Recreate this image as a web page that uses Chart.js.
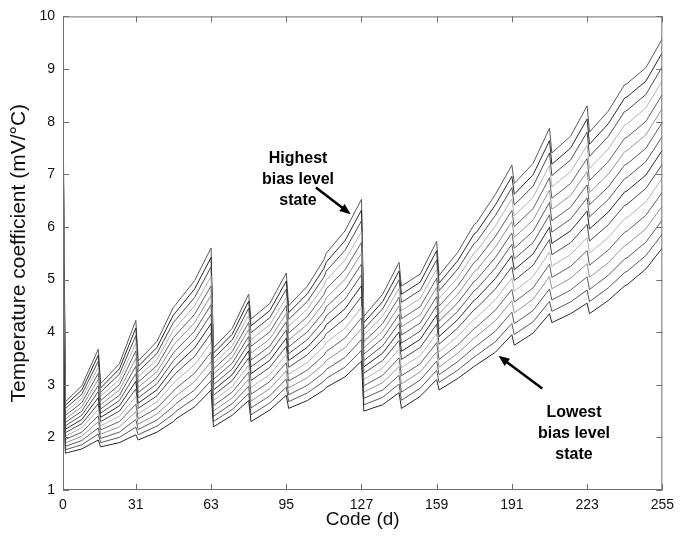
<!DOCTYPE html>
<html>
<head>
<meta charset="utf-8">
<script src="https://cdn.jsdelivr.net/npm/chart.js@4.4.1/dist/chart.umd.min.js"></script>
<style>
  html, body { margin: 0; padding: 0; background: #fff; }
  #tc { display: block; }
</style>
</head>
<body>
<canvas id="tc" width="681" height="536"></canvas>
<script>
// DAC code at which each value was read
const codes = [0,
  1, 8, 15,  16, 24, 31,  32, 40, 47,  48, 56, 63,
  64, 72, 79,  80, 88, 95,  96, 104, 111,  112, 120, 127,
  128, 136, 143,  144, 152, 159,  160, 168, 175,  176, 184, 191,
  192, 200, 207,  208, 216, 223,  224, 232, 239,  240, 248, 255];

const codeTicks = [0, 31, 63, 95, 127, 159, 191, 223, 255];

// temperature coefficient (mV/°C), lowest bias level (lvl1) to highest (lvl16)
const lvl1 = [4.60,
  1.70, 1.78, 1.95,  1.82, 1.90, 2.05,  1.95, 2.10, 2.30,  2.35, 2.58, 2.90,
  2.20, 2.42, 2.70,  2.30, 2.52, 2.80,  2.55, 2.70, 2.90,  2.95, 3.15, 3.45,
  2.50, 2.62, 2.85,  2.55, 2.78, 3.10,  2.90, 3.12, 3.35,  3.38, 3.62, 3.95,
  3.75, 3.98, 4.35,  4.18, 4.35, 4.55,  4.35, 4.60, 4.88,  4.90, 5.20, 5.60];
const lvl2 = [4.86,
  1.765, 1.86, 2.065,  1.90, 2.00, 2.195,  2.05, 2.215, 2.445,  2.495, 2.74, 3.08,
  2.30, 2.53, 2.835,  2.43, 2.655, 2.955,  2.68, 2.845, 3.065,  3.12, 3.335, 3.655,
  2.62, 2.76, 3.015,  2.705, 2.935, 3.275,  3.045, 3.28, 3.53,  3.56, 3.82, 4.165,
  3.955, 4.195, 4.585,  4.395, 4.575, 4.80,  4.58, 4.84, 5.135,  5.155, 5.455, 5.865];
const lvl3 = [5.12,
  1.83, 1.94, 2.18,  1.98, 2.10, 2.34,  2.15, 2.33, 2.59,  2.64, 2.90, 3.26,
  2.40, 2.64, 2.97,  2.56, 2.79, 3.11,  2.81, 2.99, 3.23,  3.29, 3.52, 3.86,
  2.74, 2.90, 3.18,  2.86, 3.09, 3.45,  3.19, 3.44, 3.71,  3.74, 4.02, 4.38,
  4.16, 4.41, 4.82,  4.61, 4.80, 5.05,  4.81, 5.08, 5.39,  5.41, 5.71, 6.13];
const lvl4 = [5.38,
  1.895, 2.02, 2.295,  2.06, 2.20, 2.485,  2.25, 2.445, 2.735,  2.785, 3.06, 3.44,
  2.50, 2.75, 3.105,  2.69, 2.925, 3.265,  2.94, 3.135, 3.395,  3.46, 3.705, 4.065,
  2.86, 3.04, 3.345,  3.015, 3.245, 3.625,  3.335, 3.60, 3.89,  3.92, 4.22, 4.595,
  4.365, 4.625, 5.055,  4.825, 5.025, 5.30,  5.04, 5.32, 5.645,  5.665, 5.965, 6.395];
const lvl5 = [5.64,
  1.96, 2.10, 2.41,  2.14, 2.30, 2.63,  2.35, 2.56, 2.88,  2.93, 3.22, 3.62,
  2.60, 2.86, 3.24,  2.82, 3.06, 3.42,  3.07, 3.28, 3.56,  3.63, 3.89, 4.27,
  2.98, 3.18, 3.51,  3.17, 3.40, 3.80,  3.48, 3.76, 4.07,  4.10, 4.42, 4.81,
  4.57, 4.84, 5.29,  5.04, 5.25, 5.55,  5.27, 5.56, 5.90,  5.92, 6.22, 6.66];
const lvl6 = [5.90,
  2.025, 2.18, 2.525,  2.22, 2.40, 2.775,  2.45, 2.675, 3.025,  3.075, 3.38, 3.80,
  2.70, 2.97, 3.375,  2.95, 3.195, 3.575,  3.20, 3.425, 3.725,  3.80, 4.075, 4.475,
  3.10, 3.32, 3.675,  3.325, 3.555, 3.975,  3.625, 3.92, 4.25,  4.28, 4.62, 5.025,
  4.775, 5.055, 5.525,  5.255, 5.475, 5.80,  5.50, 5.80, 6.155,  6.175, 6.475, 6.925];
const lvl7 = [6.16,
  2.09, 2.26, 2.64,  2.30, 2.50, 2.92,  2.55, 2.79, 3.17,  3.22, 3.54, 3.98,
  2.80, 3.08, 3.51,  3.08, 3.33, 3.73,  3.33, 3.57, 3.89,  3.97, 4.26, 4.68,
  3.22, 3.46, 3.84,  3.48, 3.71, 4.15,  3.77, 4.08, 4.43,  4.46, 4.82, 5.24,
  4.98, 5.27, 5.76,  5.47, 5.70, 6.05,  5.73, 6.04, 6.41,  6.43, 6.73, 7.19];
const lvl8 = [6.42,
  2.155, 2.34, 2.755,  2.38, 2.60, 3.065,  2.65, 2.905, 3.315,  3.365, 3.70, 4.16,
  2.90, 3.19, 3.645,  3.21, 3.465, 3.885,  3.46, 3.715, 4.055,  4.14, 4.445, 4.885,
  3.34, 3.60, 4.005,  3.635, 3.865, 4.325,  3.915, 4.24, 4.61,  4.64, 5.02, 5.455,
  5.185, 5.485, 5.995,  5.685, 5.925, 6.30,  5.96, 6.28, 6.665,  6.685, 6.985, 7.455];
const lvl9 = [6.68,
  2.22, 2.42, 2.87,  2.46, 2.70, 3.21,  2.75, 3.02, 3.46,  3.51, 3.86, 4.34,
  3.00, 3.30, 3.78,  3.34, 3.60, 4.04,  3.59, 3.86, 4.22,  4.31, 4.63, 5.09,
  3.46, 3.74, 4.17,  3.79, 4.02, 4.50,  4.06, 4.40, 4.79,  4.82, 5.22, 5.67,
  5.39, 5.70, 6.23,  5.90, 6.15, 6.55,  6.19, 6.52, 6.92,  6.94, 7.24, 7.72];
const lvl10 = [6.94,
  2.285, 2.50, 2.985,  2.54, 2.80, 3.355,  2.85, 3.135, 3.605,  3.655, 4.02, 4.52,
  3.10, 3.41, 3.915,  3.47, 3.735, 4.195,  3.72, 4.005, 4.385,  4.48, 4.815, 5.295,
  3.58, 3.88, 4.335,  3.945, 4.175, 4.675,  4.205, 4.56, 4.97,  5.00, 5.42, 5.885,
  5.595, 5.915, 6.465,  6.115, 6.375, 6.80,  6.42, 6.76, 7.175,  7.195, 7.495, 7.985];
const lvl11 = [7.20,
  2.35, 2.58, 3.10,  2.62, 2.90, 3.50,  2.95, 3.25, 3.75,  3.80, 4.18, 4.70,
  3.20, 3.52, 4.05,  3.60, 3.87, 4.35,  3.85, 4.15, 4.55,  4.65, 5.00, 5.50,
  3.70, 4.02, 4.50,  4.10, 4.33, 4.85,  4.35, 4.72, 5.15,  5.18, 5.62, 6.10,
  5.80, 6.13, 6.70,  6.33, 6.60, 7.05,  6.65, 7.00, 7.43,  7.45, 7.75, 8.25];
const lvl12 = [7.46,
  2.415, 2.66, 3.215,  2.70, 3.00, 3.645,  3.05, 3.365, 3.895,  3.945, 4.34, 4.88,
  3.30, 3.63, 4.185,  3.73, 4.005, 4.505,  3.98, 4.295, 4.715,  4.82, 5.185, 5.705,
  3.82, 4.16, 4.665,  4.255, 4.485, 5.025,  4.495, 4.88, 5.33,  5.36, 5.82, 6.315,
  6.005, 6.345, 6.935,  6.545, 6.825, 7.30,  6.88, 7.24, 7.685,  7.705, 8.005, 8.515];
const lvl13 = [7.72,
  2.48, 2.74, 3.33,  2.78, 3.10, 3.79,  3.15, 3.48, 4.04,  4.09, 4.50, 5.06,
  3.40, 3.74, 4.32,  3.86, 4.14, 4.66,  4.11, 4.44, 4.88,  4.99, 5.37, 5.91,
  3.94, 4.30, 4.83,  4.41, 4.64, 5.20,  4.64, 5.04, 5.51,  5.54, 6.02, 6.53,
  6.21, 6.56, 7.17,  6.76, 7.05, 7.55,  7.11, 7.48, 7.94,  7.96, 8.26, 8.78];
const lvl14 = [7.98,
  2.545, 2.82, 3.445,  2.86, 3.20, 3.935,  3.25, 3.595, 4.185,  4.235, 4.66, 5.24,
  3.50, 3.85, 4.455,  3.99, 4.275, 4.815,  4.24, 4.585, 5.045,  5.16, 5.555, 6.115,
  4.06, 4.44, 4.995,  4.565, 4.795, 5.375,  4.785, 5.20, 5.69,  5.72, 6.22, 6.745,
  6.415, 6.775, 7.405,  6.975, 7.275, 7.80,  7.34, 7.72, 8.195,  8.215, 8.515, 9.045];
const lvl15 = [8.24,
  2.61, 2.90, 3.56,  2.94, 3.30, 4.08,  3.35, 3.71, 4.33,  4.38, 4.82, 5.42,
  3.60, 3.96, 4.59,  4.12, 4.41, 4.97,  4.37, 4.73, 5.21,  5.33, 5.74, 6.32,
  4.18, 4.58, 5.16,  4.72, 4.95, 5.55,  4.93, 5.36, 5.87,  5.90, 6.42, 6.96,
  6.62, 6.99, 7.64,  7.19, 7.50, 8.05,  7.57, 7.96, 8.45,  8.47, 8.77, 9.31];
const lvl16 = [8.50,
  2.675, 2.98, 3.675,  3.02, 3.40, 4.225,  3.45, 3.825, 4.475,  4.525, 4.98, 5.60,
  3.70, 4.07, 4.725,  4.25, 4.545, 5.125,  4.50, 4.875, 5.375,  5.50, 5.925, 6.525,
  4.30, 4.72, 5.325,  4.875, 5.105, 5.725,  5.075, 5.52, 6.05,  6.08, 6.62, 7.175,
  6.825, 7.205, 7.875,  7.405, 7.725, 8.30,  7.80, 8.20, 8.705,  8.725, 9.025, 9.575];

const levels = [lvl1, lvl2, lvl3, lvl4, lvl5, lvl6, lvl7, lvl8,
                lvl9, lvl10, lvl11, lvl12, lvl13, lvl14, lvl15, lvl16];

// matlab default line colours, printed in grey
const greys = ['#2b2b2b', '#5a5a5a', '#5e5e5e', '#949494', '#626262', '#b4b4b4', '#4c4c4c'];

const tickFont = { family: "'Liberation Sans', Arial, sans-serif", size: 14 };
const xTitleFont = { family: "'Liberation Sans', Arial, sans-serif", size: 19 };
const yTitleFont = { family: "'Liberation Sans', Arial, sans-serif", size: 21 };

// box round the plot with inward ticks on all four sides
const boxPlugin = {
    id: 'box',
    afterDatasetsDraw(chart) {
        const { ctx, chartArea: a, scales: { x, y } } = chart;
        const len = 6;
        ctx.save();
        ctx.strokeStyle = '#707070';
        ctx.lineWidth = 1;
        ctx.strokeRect(a.left + 0.5, a.top + 0.5, a.right - a.left - 1, a.bottom - a.top - 1);
        ctx.beginPath();
        x.ticks.forEach(t => {
            const px = Math.round(x.getPixelForValue(t.value)) + 0.5;
            ctx.moveTo(px, a.bottom); ctx.lineTo(px, a.bottom - len);
            ctx.moveTo(px, a.top); ctx.lineTo(px, a.top + len);
        });
        y.ticks.forEach(t => {
            const py = Math.round(y.getPixelForValue(t.value)) + 0.5;
            ctx.moveTo(a.left, py); ctx.lineTo(a.left + len, py);
            ctx.moveTo(a.right, py); ctx.lineTo(a.right - len, py);
        });
        ctx.stroke();
        ctx.restore();
    }
};

// the two callouts, placed in data units
const callouts = [
    { text: ['Highest', 'bias level', 'state'], at: [100, 7.3], tail: [107.6, 6.75], tip: [122.4, 6.24] },
    { text: ['Lowest', 'bias level', 'state'], at: [217.4, 2.48], tail: [203.9, 2.93], tip: [185.3, 3.55] }
];

const calloutPlugin = {
    id: 'callouts',
    afterDraw(chart) {
        const { ctx, scales: { x, y } } = chart;
        ctx.save();
        ctx.fillStyle = '#000';
        ctx.strokeStyle = '#000';
        ctx.font = "bold 16px 'Liberation Sans', Arial, sans-serif";
        ctx.textAlign = 'center';
        ctx.textBaseline = 'middle';
        callouts.forEach(c => {
            const cx = x.getPixelForValue(c.at[0]);
            const cy = y.getPixelForValue(c.at[1]);
            c.text.forEach((line, i) => ctx.fillText(line, cx, cy + i * 21));

            const x0 = x.getPixelForValue(c.tail[0]), y0 = y.getPixelForValue(c.tail[1]);
            const x1 = x.getPixelForValue(c.tip[0]), y1 = y.getPixelForValue(c.tip[1]);
            const ang = Math.atan2(y1 - y0, x1 - x0);
            const head = 11;
            ctx.lineWidth = 2.5;
            ctx.beginPath();
            ctx.moveTo(x0, y0);
            ctx.lineTo(x1 - head * 0.7 * Math.cos(ang), y1 - head * 0.7 * Math.sin(ang));
            ctx.stroke();
            ctx.beginPath();
            ctx.moveTo(x1, y1);
            ctx.lineTo(x1 - head * Math.cos(ang) + 4.5 * Math.sin(ang), y1 - head * Math.sin(ang) - 4.5 * Math.cos(ang));
            ctx.lineTo(x1 - head * Math.cos(ang) - 4.5 * Math.sin(ang), y1 - head * Math.sin(ang) + 4.5 * Math.cos(ang));
            ctx.closePath();
            ctx.fill();
        });
        ctx.restore();
    }
};

const datasets = levels.map((vals, i) => ({
    label: 'bias ' + (i + 1),
    data: codes.map((c, k) => ({ x: c, y: vals[k] })),
    borderColor: greys[i % greys.length],
    borderWidth: 1,
    pointRadius: 0,
    tension: 0,
    fill: false
}));

new Chart(document.getElementById('tc'), {
    type: 'line',
    data: { datasets },
    options: {
        responsive: false,
        animation: false,
        events: [],
        layout: { padding: { top: 14, right: 14, left: 0, bottom: 0 } },
        plugins: { legend: { display: false }, tooltip: { enabled: false } },
        scales: {
            x: {
                type: 'linear',
                min: 0,
                max: 255,
                afterBuildTicks: s => { s.ticks = codeTicks.map(v => ({ value: v })); },
                afterFit: s => { s.height = 46; },
                grid: { display: false, drawTicks: false },
                border: { display: false },
                ticks: { font: tickFont, color: '#111', padding: 7, maxRotation: 0, autoSkip: false },
                title: { display: true, text: 'Code (d)', font: xTitleFont, color: '#111', padding: { top: 0, bottom: 5 } }
            },
            y: {
                min: 1,
                max: 10,
                afterFit: s => { s.width = 63; },
                grid: { display: false, drawTicks: false },
                border: { display: false },
                ticks: { stepSize: 1, font: tickFont, color: '#111', padding: 8 },
                title: { display: true, text: 'Temperature coefficient (mV/°C)', font: yTitleFont, color: '#111', padding: { top: 7, bottom: 0 } }
            }
        }
    },
    plugins: [boxPlugin, calloutPlugin]
});
</script>
</body>
</html>
